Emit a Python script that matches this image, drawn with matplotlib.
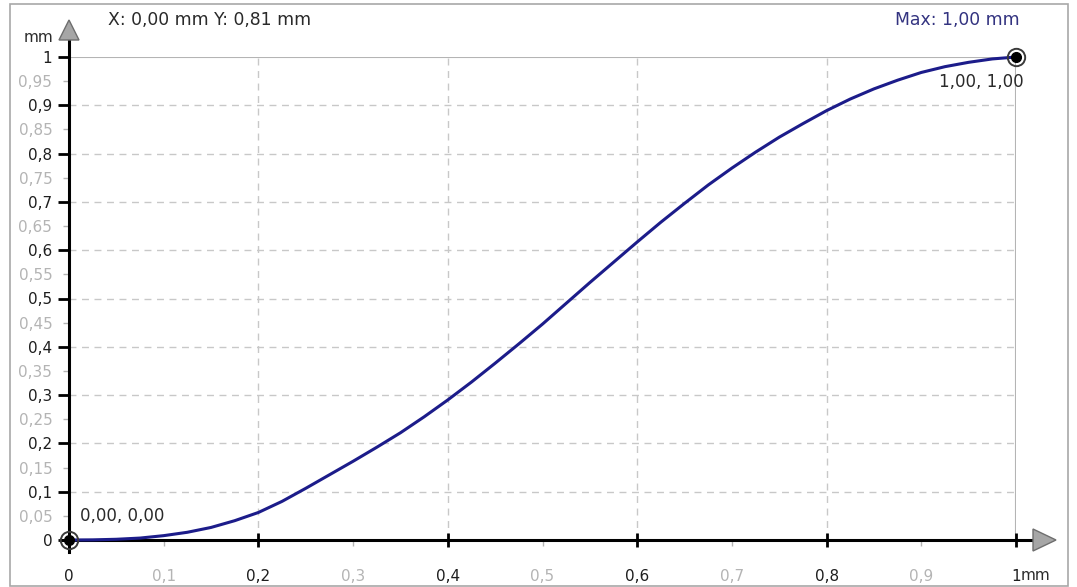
import matplotlib
matplotlib.use("Agg")
import matplotlib.pyplot as plt
from matplotlib.patches import Polygon, Rectangle

# displacement curve (mm)
x_pos = [0.0, 0.025, 0.05, 0.075, 0.1, 0.125, 0.15, 0.175, 0.2, 0.225,
         0.25, 0.275, 0.3, 0.325, 0.35, 0.375, 0.4, 0.425, 0.45, 0.475,
         0.5, 0.525, 0.55, 0.575, 0.6, 0.625, 0.65, 0.675, 0.7, 0.725,
         0.75, 0.775, 0.8, 0.825, 0.85, 0.875, 0.9, 0.925, 0.95, 0.975, 1.0]
y_pos = [0.0, 0.0003, 0.0015, 0.004, 0.009, 0.016, 0.026, 0.04, 0.057, 0.08,
         0.107, 0.135, 0.163, 0.192, 0.222, 0.255, 0.29, 0.327, 0.366, 0.406,
         0.447, 0.49, 0.533, 0.575, 0.617, 0.658, 0.697, 0.735, 0.77, 0.803,
         0.834, 0.862, 0.889, 0.913, 0.934, 0.952, 0.968, 0.98, 0.989, 0.996, 1.0]

x_major = [0, 0.2, 0.4, 0.6, 0.8, 1.0]
x_major_labels = ['0', '0,2', '0,4', '0,6', '0,8', '1']
x_minor = [0.1, 0.3, 0.5, 0.7, 0.9]
x_minor_labels = ['0,1', '0,3', '0,5', '0,7', '0,9']
y_major = [0, 0.1, 0.2, 0.3, 0.4, 0.5, 0.6, 0.7, 0.8, 0.9, 1.0]
y_major_labels = ['0', '0,1', '0,2', '0,3', '0,4', '0,5', '0,6', '0,7', '0,8', '0,9', '1']
y_minor = [0.05, 0.15, 0.25, 0.35, 0.45, 0.55, 0.65, 0.75, 0.85, 0.95]
y_minor_labels = ['0,05', '0,15', '0,25', '0,35', '0,45', '0,55', '0,65', '0,75', '0,85', '0,95']
x_grid = [0.2, 0.4, 0.6, 0.8]
y_grid = [0.1, 0.2, 0.3, 0.4, 0.5, 0.6, 0.7, 0.8, 0.9]

start_pt = (0.0, 0.0)
end_pt = (1.0, 1.0)

W, H = 1077, 587
fig = plt.figure(figsize=(W / 100, H / 100), dpi=100)
# plot area in pixels: x 69..1016, y 57..540
ax = fig.add_axes([69 / W, 1 - 540 / H, (1016 - 69) / W, (540 - 57) / H])
ax.set_xlim(0, 1)
ax.set_ylim(0, 1)
for s in ax.spines.values():
    s.set_visible(False)

# outer frame
fig.patches.append(Rectangle((10 / W, 1 - 586 / H), 1058 / W, 582 / H, transform=fig.transFigure,
                             fill=False, edgecolor='#a8a8a8', linewidth=1.2))

# grid
grid_c = '#c8c8c8'
ax.vlines(x_grid, 0, 1, colors=grid_c, linewidth=1, linestyles=(0, (5, 4)), zorder=1)
ax.hlines(y_grid, 0, 1, colors=grid_c, linewidth=1, linestyles=(0, (5, 4)), zorder=1)
ax.plot([0, 1, 1], [1, 1, 0], color='#b4b4b4', linewidth=1.5, zorder=1)

# axis lines with arrows (axes coords, px / size)
aw, ah = 1016 - 69, 540 - 57
ax.plot([-6 / aw, (1033 - 69) / aw], [0, 0], color='black', linewidth=2.2,
        transform=ax.transAxes, clip_on=False, zorder=3)
ax.plot([0, 0], [-12 / ah, (540 - 40) / ah], color='black', linewidth=2.2,
        transform=ax.transAxes, clip_on=False, zorder=3)
ax.add_patch(Polygon([(-10 / aw, (540 - 40) / ah), (10 / aw, (540 - 40) / ah), (0, (540 - 20) / ah)],
                     closed=True, transform=ax.transAxes, clip_on=False,
                     facecolor='#a6a6a6', edgecolor='#6e6e6e', linewidth=1, zorder=4))
ax.add_patch(Polygon([((1033 - 69) / aw, 11 / ah), ((1033 - 69) / aw, -11 / ah), ((1056 - 69) / aw, 0)],
                     closed=True, transform=ax.transAxes, clip_on=False,
                     facecolor='#a6a6a6', edgecolor='#6e6e6e', linewidth=1, zorder=4))

# curve
ax.plot(x_pos, y_pos, color='#1c1c8a', linewidth=2.2, zorder=5, clip_on=False,
        solid_joinstyle='round')

# end point markers
for px, py in (start_pt, end_pt):
    ax.plot(px, py, 'o', markersize=12.5, mfc='none', mec='#3a3a3a', mew=1.4, zorder=6, clip_on=False)
    ax.plot(px, py, 'o', markersize=7, color='black', zorder=7, clip_on=False)

# ticks
major_c = '#1e1e1e'
minor_c = '#b4b4b4'
ax.set_xticks(x_major)
ax.set_xticklabels(x_major_labels)
ax.set_xticks(x_minor, minor=True)
ax.set_xticklabels(x_minor_labels, minor=True)
ax.set_yticks(y_major)
ax.set_yticklabels(y_major_labels)
ax.set_yticks(y_minor, minor=True)
ax.set_yticklabels(y_minor_labels, minor=True)

ax.tick_params(axis='x', which='major', direction='inout', length=10, width=2, color='black',
               labelsize=11, labelcolor=major_c, pad=16)
ax.tick_params(axis='x', which='minor', direction='out', length=4, width=1, color=minor_c,
               labelsize=11, labelcolor=minor_c, pad=17)
ax.tick_params(axis='y', which='major', direction='out', length=8, width=2, color='black',
               labelsize=11, labelcolor=major_c, pad=4)
ax.tick_params(axis='y', which='minor', direction='out', length=4, width=1, color=minor_c,
               labelsize=11, labelcolor=minor_c, pad=8)

# texts
ax.annotate('mm', xy=(0, 1), xycoords='axes fraction', xytext=(-16, 20), textcoords='offset pixels',
            ha='right', va='center', fontsize=11, color='#2a2a2a')
ax.annotate('mm', xy=(1, 0), xycoords='axes fraction', xytext=(5, -35), textcoords='offset pixels',
            ha='left', va='center', fontsize=11, color='#2a2a2a')
fig.text(108 / W, 1 - 20 / H, 'X: 0,00 mm Y: 0,81 mm', ha='left', va='center',
         fontsize=12.4, color='#2a2a2a')
fig.text(1020 / W, 1 - 20 / H, 'Max: 1,00 mm', ha='right', va='center',
         fontsize=12.4, color='#333380')
ax.annotate('0,00, 0,00', xy=start_pt, xytext=(11, 24), textcoords='offset pixels',
            ha='left', va='center', fontsize=12, color='#2a2a2a')
ax.annotate('1,00, 1,00', xy=end_pt, xytext=(8, -25), textcoords='offset pixels',
            ha='right', va='center', fontsize=12, color='#2a2a2a')

fig.savefig('out.png', dpi=100)
